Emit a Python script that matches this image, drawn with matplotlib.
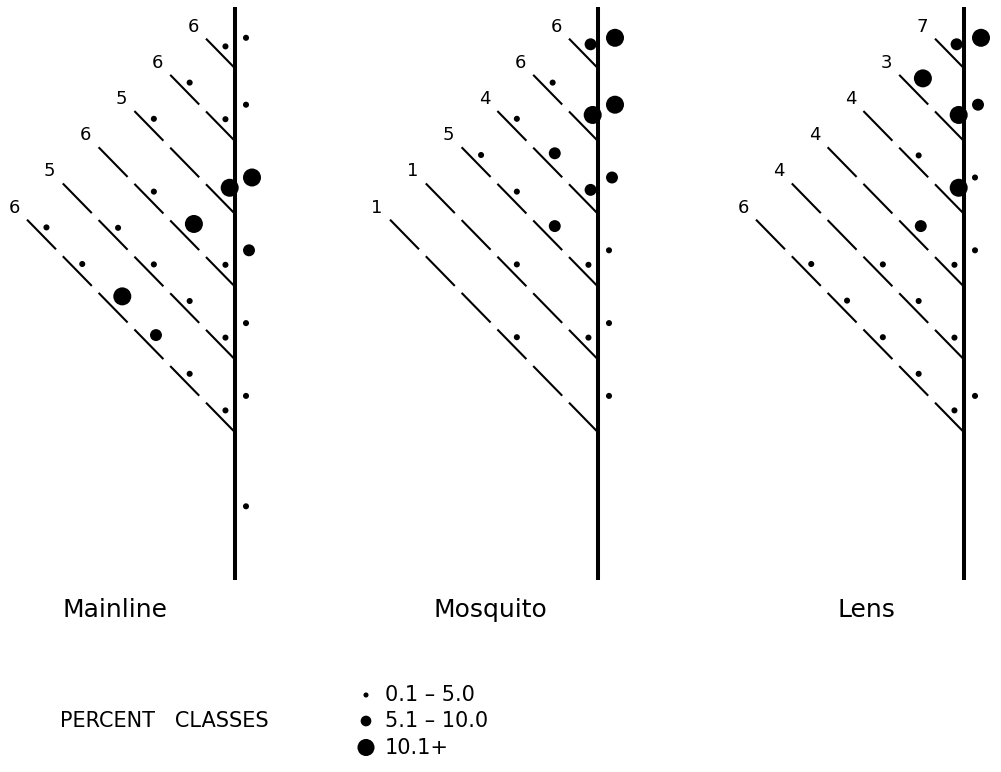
import numpy as np
import matplotlib
matplotlib.use("Agg")
import matplotlib.pyplot as plt

# Dados: classe de percentagem por segmento (0 = nenhum, 1 = 0.1-5.0, 2 = 5.1-10.0, 3 = 10.1+)
panels = ["Mainline", "Mosquito", "Lens"]

mainline_labels = [6, 6, 5, 6, 5, 6]
mainline_dots = [[1], [1, 1], [3, 0, 1], [1, 3, 1, 0], [1, 1, 1, 1, 0], [1, 1, 2, 3, 1, 1]]
mainline_stem = [1, 1, 3, 2, 1, 1, 1]

mosquito_labels = [6, 6, 4, 5, 1, 1]
mosquito_dots = [[2], [3, 1], [2, 2, 1], [1, 2, 1, 1], [1, 0, 1, 0, 0], [0, 0, 1, 0, 0, 0]]
mosquito_stem = [3, 3, 2, 1, 1, 1, 0]

lens_labels = [7, 3, 4, 4, 4, 6]
lens_dots = [[2], [3, 3], [3, 1, 0], [1, 2, 0, 0], [1, 1, 1, 0, 0], [1, 1, 1, 1, 1, 0]]
lens_stem = [3, 2, 1, 1, 0, 1, 0]

class_labels = ["0.1 – 5.0", "5.1 – 10.0", "10.1+"]

# Geometria (pixels)
line_x = [235, 598, 964]
j1, jgap = 68.3, 72.8
step_x, step_y, dash = 35.8, 36.6, 0.81
line_top, line_bot = j1 - 61, j1 + 5 * jgap + 148
sizes = {1: 19, 2: 74, 3: 168}      # pontos^2
radius = {1: 3.0, 2: 6.0, 3: 9.0}   # pixels

fig = plt.figure(figsize=(10.01, 7.72), dpi=100)
ax = fig.add_axes([0, 0, 1, 1])
ax.set_xlim(0, 1001)
ax.set_ylim(772, 0)
ax.axis('off')

all_labels = [mainline_labels, mosquito_labels, lens_labels]
all_dots = [mainline_dots, mosquito_dots, lens_dots]
all_stem = [mainline_stem, mosquito_stem, lens_stem]

nrm = np.array([1, -1]) / np.sqrt(2)
alg = np.array([1, 1]) / np.sqrt(2)

for p in range(3):
    x0 = line_x[p]
    ax.plot([x0, x0], [line_top, line_bot], color='black', lw=2.9, solid_capstyle='butt')
    junctions = [j1 + k * jgap for k in range(6)]
    px, py, ps = [], [], []
    for j in range(6):
        yj = junctions[j]
        segs = all_dots[p][j]
        for m in range(len(segs)):
            sx = x0 - m * step_x
            sy = yj - m * step_y
            ex = sx - dash * step_x
            ey = sy - dash * step_y
            ax.plot([sx, ex], [sy, ey], color='black', lw=1.5, solid_capstyle='butt')
            c = segs[m]
            if c:
                cen = np.array([(sx + ex) / 2, (sy + ey) / 2])
                pos = cen + nrm * (radius[c] + 5.5) - alg * 1.5
                px.append(pos[0]); py.append(pos[1]); ps.append(sizes[c])
        ax.text(ex - 13, ey - 12, str(all_labels[p][j]), fontsize=13,
                ha='center', va='center')
    # pontos à direita do tronco
    bounds = [line_top] + junctions + [line_bot]
    for i, c in enumerate(all_stem[p]):
        if c:
            px.append(x0 + 8 + radius[c])
            py.append((bounds[i] + bounds[i + 1]) / 2)
            ps.append(sizes[c])
    ax.scatter(px, py, s=ps, color='black', linewidths=0)

# títulos dos painéis
title_x = [115, 490, 866]
for p in range(3):
    ax.text(title_x[p], 617, panels[p], fontsize=18, ha='center', va='baseline')

# legenda
ax.text(60, 721, "PERCENT   CLASSES", fontsize=15, ha='left', va='center')
leg_y = [695, 721, 747.5]
ax.scatter([366] * 3, leg_y, s=[sizes[1] * 0.7, sizes[2] * 0.8, sizes[3] * 0.9],
           color='black', linewidths=0)
for k in range(3):
    ax.text(385, leg_y[k], class_labels[k], fontsize=15, ha='left', va='center')

fig.savefig('out.png', dpi=100)
